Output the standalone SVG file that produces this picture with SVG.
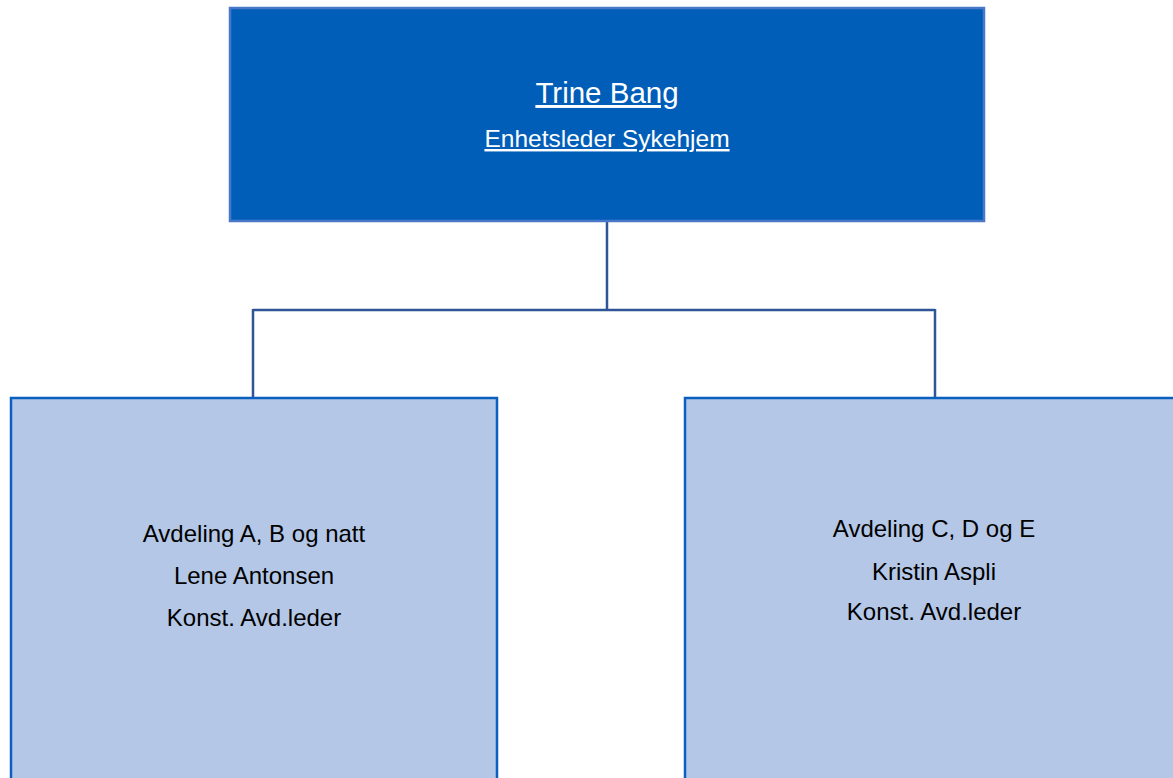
<svg xmlns="http://www.w3.org/2000/svg" width="1173" height="778" viewBox="0 0 1173 778">
<style>
.top{fill:#005EB8;stroke:#4A78C8;stroke-width:2.5}
.sub{fill:#B4C7E7;stroke:#0A5FBF;stroke-width:2.5}
.conn{fill:none;stroke:#2F5597;stroke-width:2.5}
.t{font-family:"Liberation Sans",Arial,sans-serif;text-anchor:middle}
.w{fill:#FFFFFF;text-decoration:underline}
.b{fill:#000000;font-size:24px}
</style>
<rect width="1173" height="778" fill="#FFFFFF"/>
<g id="connectors">
<path class="conn" d="M607 221 V310 M253 310 H935 M253 309 V398 M935 309 V398"/>
</g>
<g id="node-trine">
<rect class="top" x="230" y="8" width="754" height="213"/>
<text class="t w" x="607" y="103" font-size="29.5">Trine Bang</text>
<text class="t w" x="607" y="147" font-size="24.5">Enhetsleder Sykehjem</text>
</g>
<g id="node-lene">
<rect class="sub" x="11" y="398" width="486" height="400"/>
<text class="t b" x="254" y="542">Avdeling A, B og natt</text>
<text class="t b" x="254" y="584">Lene Antonsen</text>
<text class="t b" x="254" y="626">Konst. Avd.leder</text>
</g>
<g id="node-kristin">
<rect class="sub" x="685" y="398" width="500" height="400"/>
<text class="t b" x="934" y="537">Avdeling C, D og E</text>
<text class="t b" x="934" y="580">Kristin Aspli</text>
<text class="t b" x="934" y="620">Konst. Avd.leder</text>
</g>
</svg>
